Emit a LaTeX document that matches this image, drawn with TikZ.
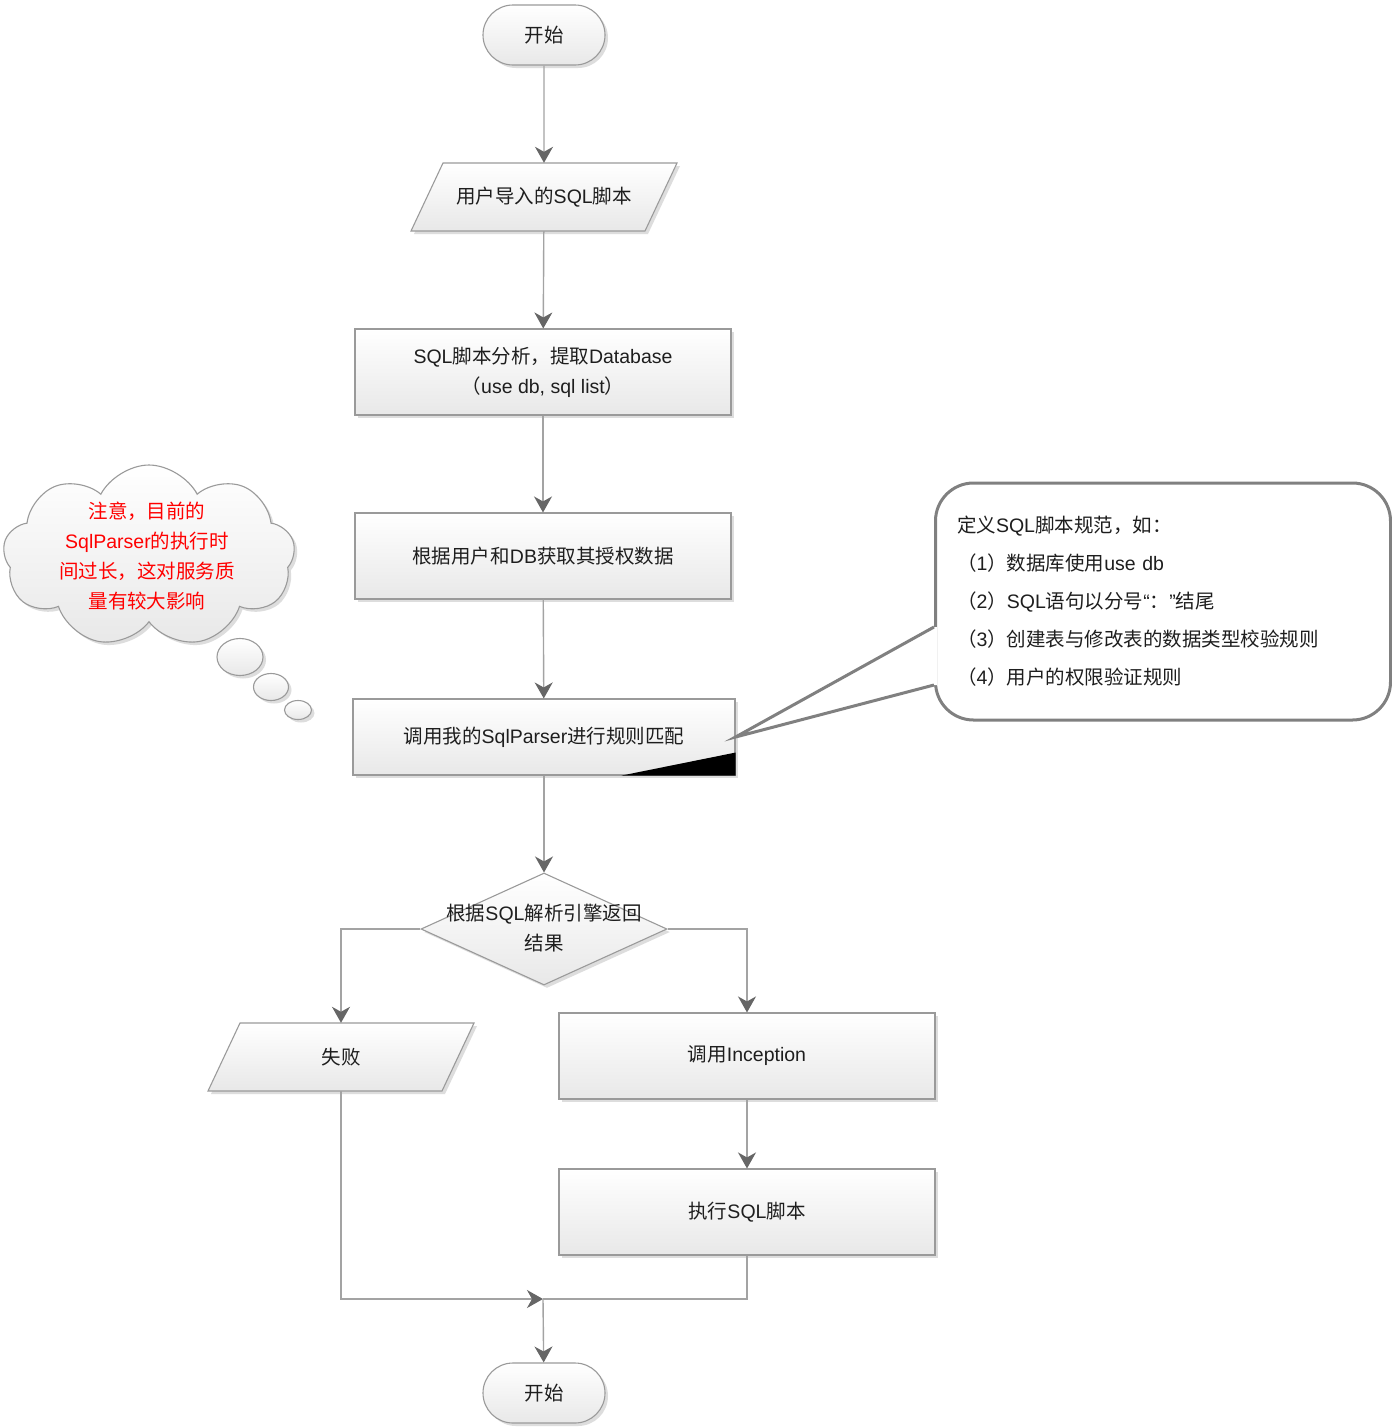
\documentclass[tikz,border=0pt]{standalone}
\usepackage{fontspec}
\setmainfont{Liberation Sans}
\newfontfamily\cjkfont{Noto Sans CJK SC}
\usetikzlibrary{arrows.meta,shapes.geometric,shapes.misc,shapes.symbols,shadows}

% Han characters and full-width punctuation are set in the CJK family,
% everything else in Liberation Sans.
\XeTeXinterchartokenstate=1
\newXeTeXintercharclass\hanclass
\newcount\hanchar
\hanchar="4E00
\loop\XeTeXcharclass\hanchar=\hanclass\advance\hanchar by 1 \ifnum\hanchar<"A000 \repeat
\hanchar="3000
\loop\XeTeXcharclass\hanchar=\hanclass\advance\hanchar by 1 \ifnum\hanchar<"3040 \repeat
\hanchar="FF00
\loop\XeTeXcharclass\hanchar=\hanclass\advance\hanchar by 1 \ifnum\hanchar<"FFF0 \repeat
\XeTeXinterchartoks 0 \hanclass = {\cjkfont}
\XeTeXinterchartoks 4095 \hanclass = {\cjkfont}
\XeTeXinterchartoks \hanclass 0 = {\rmfamily}
\XeTeXinterchartoks \hanclass 4095 = {\rmfamily}

\definecolor{edge}{HTML}{A3A3A3}
\definecolor{tipgray}{HTML}{666666}
\definecolor{frame}{HTML}{9A9A9A}
\definecolor{ink}{HTML}{1E1E1E}
\definecolor{calloutline}{HTML}{808080}

\tikzset{
  base/.style={draw=frame, line width=1.1pt, top color=white, bottom color=black!9,
    text=ink, font=\fontsize{19.5}{30}\selectfont, align=center,
    drop shadow={shadow xshift=3pt, shadow yshift=-3pt, fill=black!22, opacity=.6}},
  procbox/.style={base, rectangle, minimum width=376pt, minimum height=86pt, inner sep=0pt},
  terminal/.style={base, rounded rectangle, minimum width=122pt, minimum height=60pt, inner sep=0pt},
  decision/.style={base, diamond, minimum width=246pt, minimum height=112pt, inner sep=0pt},
  bubble/.style={base, ellipse, inner sep=0pt},
  label/.style={text=ink, font=\fontsize{19.5}{30}\selectfont, align=center, inner sep=0pt},
  flow/.style={draw=edge, line width=1.4pt, -{Stealth[length=16pt,width=18pt,inset=5pt,color=tipgray]}},
  plain/.style={draw=edge, line width=1.4pt},
}

% input/output step: slanted box drawn round a named text node
\newcommand{\ioshape}[4]{%
  \path[base] (#2-101,#3-34) -- (#2+133,#3-34) -- (#2+101,#3+34) -- (#2-133,#3+34) -- cycle;
  \node[label, minimum width=234pt, minimum height=68pt] (#1) at (#2,#3) {#4};}

\begin{document}
\begin{tikzpicture}[x=1pt,y=-1pt]
\fill[white] (0,0) rectangle (1392,1428);
\useasboundingbox (0,0) rectangle (1392,1428);

% main column
\node[terminal] (start) at (544,35) {开始};
\ioshape{input}{544}{197}{用户导入的SQL脚本}
\node[procbox] (analyse) at (543,372) {SQL脚本分析，提取Database\\（use db, sql list）};
\node[procbox] (auth) at (543,556) {根据用户和DB获取其授权数据};
\node[procbox, minimum width=382pt, minimum height=76pt] (parser) at (544,737) {调用我的SqlParser进行规则匹配};
\fill[black] ([xshift=-114pt]parser.south east) -- (parser.south east)
  -- ([yshift=23pt]parser.south east) -- cycle;

\node[decision] (decide) at (544,929) {};
\node[label] (decidetext) at (544,928) {根据SQL解析引擎返回\\结果};

\ioshape{fail}{341}{1057}{失败}
\node[procbox] (incep) at (747,1056) {调用Inception};
\node[procbox] (exec) at (747,1212) {执行SQL脚本};

\coordinate (join) at (543,1299);
\node[terminal] (finish) at (544,1393) {开始};

% connectors
\draw[flow] (start) -- (input);
\draw[flow] (input) -- (analyse);
\draw[flow] (analyse) -- (auth);
\draw[flow] (auth) -- (parser);
\draw[flow] (parser) -- (decide);
\draw[flow] (decide) -| (fail);
\draw[flow] (decide) -| (incep);
\draw[flow] (incep) -- (exec);
\draw[flow] (fail) |- (join);
\draw[plain] (exec) |- (join);
\draw[flow] (join) -- (finish);

% thought cloud with its note
\node[base, cloud, cloud puffs=9, cloud puff arc=125, aspect=1.6,
      minimum width=292pt, minimum height=182pt, inner sep=0pt] (note) at (149,556) {};
\node[label, text=red] (notetext) at (147,556) {注意，目前的\\SqlParser的执行时\\间过长，这对服务质\\量有较大影响};
\node[bubble, minimum width=46pt, minimum height=37pt] (b1) at (240,657) {};
\node[bubble, minimum width=35pt, minimum height=27pt] (b2) at (271,687) {};
\node[bubble, minimum width=27pt, minimum height=19pt] (b3) at (298,710) {};

% speech callout pointing at the parser step
\node[draw=calloutline, line width=3pt, rounded corners=38pt, fill=white,
      minimum width=455pt, minimum height=237pt, inner sep=0pt,
      text width=412pt, align=left, text=ink, font=\fontsize{19.5}{38}\selectfont]
  (spec) at (1163,601.5)
  {定义SQL脚本规范，如：\\
   （1）数据库使用use db\\
   （2）SQL语句以分号“：”结尾\\
   （3）创建表与修改表的数据类型校验规则\\
   （4）用户的权限验证规则};
\coordinate (c1) at ([yshift=-25.5pt]spec.west);
\coordinate (c2) at ([yshift=-83.5pt]spec.west);
\fill[white] (c1) -- (parser.east) -- (c2) -- ([xshift=3pt]c2) -- ([xshift=3pt]c1) -- cycle;
\draw[calloutline, line width=3pt, line join=miter] (c1) -- (parser.east) -- (c2);
\end{tikzpicture}
\end{document}
